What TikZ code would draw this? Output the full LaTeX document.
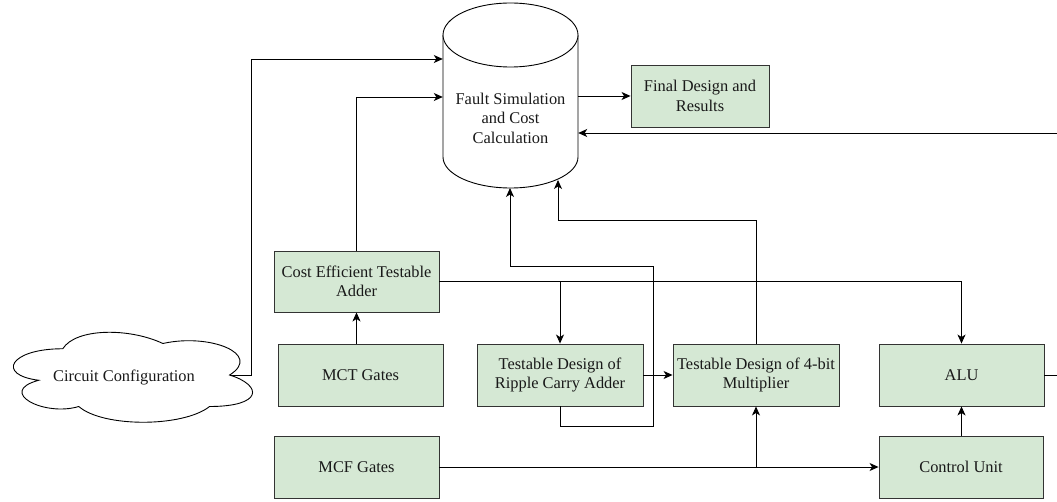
\documentclass[tikz,border=0pt]{standalone}
\usepackage{fontspec}
\setmainfont{Liberation Serif}
\usetikzlibrary{arrows.meta,calc}
\definecolor{boxfill}{HTML}{D5E8D4}
\definecolor{boxline}{HTML}{333333}
\tikzset{
  box/.style={draw=boxline, fill=boxfill, line width=0.9pt, rectangle, minimum width=165pt, minimum height=62pt, align=center, inner sep=1pt, text=black!90},
  conn/.style={draw=black, line width=0.9pt},
  arr/.style={conn, -{Stealth[length=9pt,width=8pt,inset=2.5pt]}},
  lbl/.style={align=center, text=black!90}
}
\begin{document}
\begin{tikzpicture}[x=1pt,y=-1pt,font=\fontsize{16.4}{19.5}\selectfont]
\useasboundingbox (0,0) rectangle (1057,502);
% cylinder
\fill[white] (443,35) -- (443,157) arc[start angle=180,end angle=360,x radius=67.5pt,y radius=31pt] -- (578,35) -- cycle;
\draw[line width=0.9pt] (443,35) -- (443,157) arc[start angle=180,end angle=360,x radius=67.5pt,y radius=31pt] -- (578,35);
\draw[line width=0.9pt, fill=white] (510.5,35) ellipse[x radius=67.5pt, y radius=32pt];
\node[minimum width=135pt, minimum height=185pt, inner sep=0pt] (cyl) at (510.5,95.5) {};
\node[lbl] (cyltext) at (510.5,118) {Fault Simulation\\and Cost\\Calculation};
\coordinate (cylb1) at (510,188);
\coordinate (cylb2) at (558,180);
% cloud
\begin{scope}[shift={(-4,322.5)}, x=267pt, y=-105pt]
\draw[line width=0.9pt, fill=white] (0.25,0.25)
  .. controls (0.05,0.25) and (0,0.5) .. (0.16,0.55)
  .. controls (0,0.66) and (0.18,0.9) .. (0.31,0.8)
  .. controls (0.4,1) and (0.7,1) .. (0.8,0.8)
  .. controls (1,0.8) and (1,0.6) .. (0.875,0.5)
  .. controls (1,0.3) and (0.8,0.1) .. (0.625,0.2)
  .. controls (0.5,0.05) and (0.3,0.05) .. (0.25,0.25) -- cycle;
\coordinate (cloudE) at (0.875,0.5);
\end{scope}
\node[lbl] (cloud) at (124,377) {Circuit Configuration};
% boxes
\node[box, minimum width=138pt] (final) at (700,96) {Final Design and\\Results};
\node[box, minimum height=61pt] (cost) at (356.5,281.5) {Cost Efficient Testable\\Adder};
\node[box] (mct) at (360.5,375) {MCT Gates};
\node[box] (mcf) at (356.5,467) {MCF Gates};
\node[box, minimum width=166pt] (ripple) at (560,375) {Testable Design of\\Ripple Carry Adder};
\node[box, minimum width=166pt] (mult) at (756,375) {Testable Design of 4-bit\\Multiplier};
\node[box] (alu) at (961.5,375) {ALU};
\node[box, minimum width=164pt] (cu) at (961,467) {Control Unit};
\coordinate (redge1) at (1057,133);
\coordinate (redge2) at (1057,375);
% connectors
\draw[arr] (cloudE) -- (251,375) |- (cyl.west |- 0,59);
\draw[arr] (cost.north) |- (cyl.west |- 0,97);
\draw[arr] (cyl.east |- final.west) -- (final.west);
\draw[arr] (redge1) -- (cyl.east |- redge1);
\draw[arr] (cost.south |- mct.north) -- (cost.south);
\draw[arr] (cost.east) -| (alu.north);
\draw[arr] (cost.east -| ripple.north) -- (ripple.north);
\draw[arr] (ripple.east) -- (mult.west);
\draw[arr] (ripple.south) -- ++(0,20) -| (653,266) -| (cylb1);
\draw[arr] (mult.north) |- (558,220) -- (cylb2);
\draw[arr] (mcf.east) -- (cu.west);
\draw[arr] (mcf.east -| mult.south) -- (mult.south);
\draw[arr] (cu.north -| alu.south) -- (alu.south);
\draw[conn] (alu.east) -- (redge2);
\end{tikzpicture}
\end{document}
